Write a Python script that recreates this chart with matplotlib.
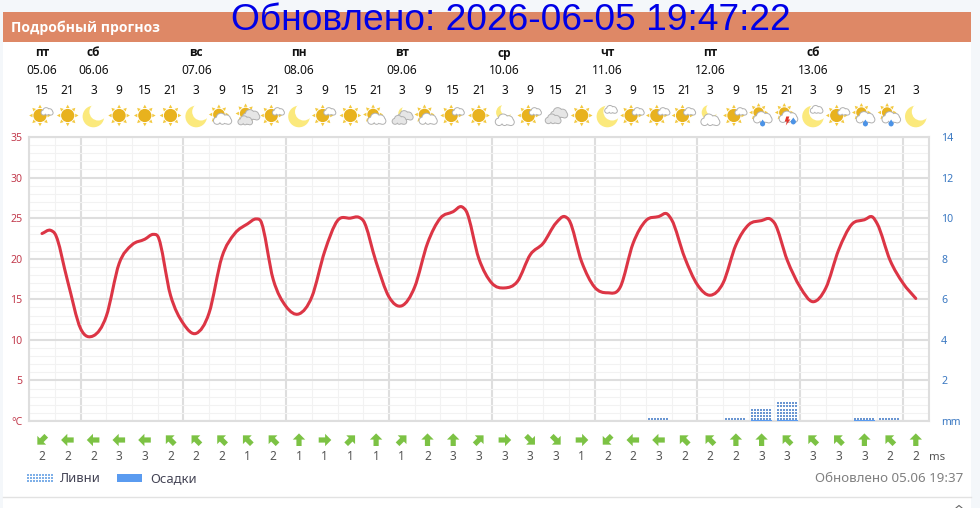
import numpy as np
import matplotlib
matplotlib.use("Agg")
import matplotlib.pyplot as plt
from matplotlib.patches import Circle, PathPatch, Polygon, Rectangle
from matplotlib.path import Path

TITLE = "Обновлено: 2026-06-05 19:47:22"
HEADER = "Подробный прогноз"
UPDATED = "Обновлено 05.06 19:37"

# day captions and the forecast slot each one sits over
DAY_SLOTS = [0, 2, 6, 10, 14, 18, 22, 26, 30]
DAY_NAMES = ["пт", "сб", "вс", "пн", "вт", "ср", "чт", "пт", "сб"]
DAY_DATES = ["05.06", "06.06", "07.06", "08.06", "09.06", "10.06", "11.06", "12.06", "13.06"]

HOURS = [15, 21, 3, 9] * 8 + [15, 21, 3]

# s sun, m moon, sc/sb sun+cloud, so sun+two clouds, mo moon+two clouds,
# mb/mc moon+cloud, oo two clouds, sr rain, st thunderstorm
ICONS = ["sc", "s", "m", "s", "s", "s", "m", "sb", "so", "sc", "m", "sc",
         "s", "sb", "mo", "sb", "sc", "s", "mb", "sc", "oo", "s", "mc", "sc",
         "sc", "sc", "mb", "sc", "sr", "st", "mc", "sc", "sr", "sr", "m"]

WIND_DIRS = ["SW", "W", "W", "W", "W", "NW", "NW", "NW", "NW", "NW", "N", "E",
             "NE", "N", "NE", "N", "N", "NE", "E", "SE", "SE", "E", "SW", "W",
             "W", "NW", "NW", "N", "N", "NW", "NW", "NW", "N", "NW", "N"]
WIND_SPEEDS = [2, 2, 2, 3, 3, 2, 2, 2, 1, 2, 1, 1,
               1, 1, 1, 2, 3, 3, 3, 3, 3, 1, 2, 2,
               3, 2, 2, 2, 3, 3, 3, 3, 3, 2, 2]

# temperature, hours since the first slot
TEMP_HOURS = [0, 2, 3, 6, 9, 12, 15, 18, 21, 24, 26, 27, 30, 33, 36, 39, 42, 45,
              48, 50, 51, 54, 57, 60, 63, 66, 69, 72, 74, 75, 78, 81, 84, 87, 90,
              93, 96, 98, 99, 102, 105, 108, 111, 114, 117, 120, 122, 123, 126,
              129, 132, 135, 138, 141, 144, 146, 147, 150, 153, 156, 159, 162,
              165, 168, 170, 171, 174, 177, 180, 183, 186, 189, 192, 194, 195,
              198, 201, 204]
TEMPS = [23.1, 23.5, 23.1, 17.2, 11.4, 10.5, 12.9, 19.4, 21.7, 22.4, 23.0, 22.8,
         15.5, 12.0, 10.8, 13.3, 20.2, 23.1, 24.3, 24.9, 24.7, 17.4, 14.1, 13.2,
         15.3, 20.9, 24.7, 25.0, 25.1, 24.7, 19.6, 15.3, 14.2, 16.5, 21.9, 25.0,
         25.8, 26.4, 25.9, 20.0, 17.0, 16.4, 17.2, 20.5, 21.9, 24.4, 25.2, 24.8,
         19.6, 16.5, 15.8, 16.5, 21.9, 24.7, 25.2, 25.5, 24.8, 20.2, 16.8, 15.5,
         17.0, 21.7, 24.2, 24.7, 24.9, 24.4, 19.8, 16.5, 14.7, 16.4, 21.1, 24.2,
         24.8, 25.1, 24.3, 19.8, 17.0, 15.1]

# precipitation in mm
SHOWER_SLOTS = [24, 27, 28, 29, 32, 33]
SHOWERS = [0.08, 0.08, 0.7, 0.98, 0.2, 0.2]
RAIN_SLOTS = [24, 27, 28, 29, 32, 33]
RAIN = [0.01, 0.01, 0.07, 0.07, 0.07, 0.01]

TEMP_TICKS = [0, 5, 10, 15, 20, 25, 30, 35]
MM_TICKS = [0, 2, 4, 6, 8, 10, 12, 14]

SUN_CORE = "#e8b21e"
SUN_RAY = "#f3c93f"
MOON = "#fbe97c"
CLOUD_EDGE = "#b2b2b2"
DROP = "#4c93e6"
WIND_GREEN = "#7cc244"
RED_LABEL = "#c23a4c"
BLUE_LABEL = "#3a78c2"
FONT = "Noto Sans"
BOLD_FONT = "Open Sans"

plt.rcParams["font.family"] = FONT

fig = plt.figure(figsize=(9.8, 5.08), dpi=100, facecolor="#f4f7fa")

# pixel-addressed layer for the page furniture and weather icons
ov = fig.add_axes([0, 0, 1, 1], zorder=0)
ov.set_xlim(0, 980)
ov.set_ylim(508, 0)
ov.axis("off")

PLOT_L, PLOT_R, PLOT_T, PLOT_B = 29.15, 928.65, 137, 421
SLOT_W = (PLOT_R - PLOT_L) / 35


def slot_x(i):
    return PLOT_L + (i + 0.5) * SLOT_W


ov.add_patch(Rectangle((3, 12), 968, 496, fc="white", ec="none"))
ov.add_patch(Rectangle((3, 12), 968, 30, fc="#de8866", ec="none"))
ov.plot([3, 971], [496.5, 496.5], color="#e2e2e2", lw=1)
ov.plot([956, 959, 962], [508, 505.5, 508], color="#666666", lw=0.8)

ov.text(511, 20.5, TITLE, family="Liberation Sans", fontsize=26.75, color="#0000e6",
        ha="center", va="center", zorder=5)
ov.text(11, 28, HEADER, family=BOLD_FONT, color="white", fontsize=10.1, fontweight="bold", va="center")

for slot, name, date in zip(DAY_SLOTS, DAY_NAMES, DAY_DATES):
    ov.text(slot_x(slot), 53, name, family=BOLD_FONT, fontsize=8.6, fontweight="bold", color="#111111",
            ha="center", va="center")
    ov.text(slot_x(slot), 71, date, fontsize=8.6, color="#111111", ha="center", va="center")

for i, h in enumerate(HOURS):
    ov.text(slot_x(i), 91, str(h), fontsize=8.6, color="#111111", ha="center", va="center")


def sun(cx, cy, r=6.6):
    for a in np.arange(0, 360, 45):
        t = np.radians(a)
        d = np.array([np.cos(t), np.sin(t)])
        n = np.array([-d[1], d[0]])
        c = np.array([cx, cy])
        ov.add_patch(Polygon([c + d * (r + 4.2), c + d * (r + 0.9) + n * 1.8, c + d * (r + 0.9) - n * 1.8],
                             fc=SUN_RAY, ec="none"))
    ov.add_patch(Circle((cx, cy), r, fc=SUN_CORE, ec="none"))


def moon(cx, cy, r=10.8, cut=8.8, off=4.8):
    ov.add_patch(Circle((cx, cy), r, fc=MOON, ec="none"))
    ov.add_patch(Circle((cx + off, cy - off), cut, fc="white", ec="none"))


def cloud(cx, cy, s=1.0, face="white"):
    # outline is a slightly larger copy of the lobes underneath the fill
    lobes = [(-6.2, 2.0, 3.6), (-1.6, -1.2, 4.9), (4.4, 0.4, 4.6), (7.0, 2.4, 3.2), (0, 3.0, 2.6)]
    for dx, dy, r in lobes:
        ov.add_patch(Circle((cx + dx * s, cy + dy * s), r * s + 1.0, fc=CLOUD_EDGE, ec="none"))
    for dx, dy, r in lobes:
        ov.add_patch(Circle((cx + dx * s, cy + dy * s), r * s, fc=face, ec="none"))


def drop(cx, cy):
    ov.add_patch(Polygon([(cx, cy - 4), (cx + 2.6, cy), (cx, cy + 2.8), (cx - 2.6, cy)],
                         fc=DROP, ec="none"))
    ov.add_patch(Circle((cx, cy + 0.4), 2.5, fc=DROP, ec="none"))


def icon(kind, cx, cy=115.5):
    if kind == "s":
        sun(cx, cy)
    elif kind == "m":
        moon(cx, cy + 1)
    elif kind == "sc":
        sun(cx - 2, cy)
        cloud(cx + 5, cy - 4, 0.55)
    elif kind == "sb":
        sun(cx - 3, cy - 1, 5.8)
        cloud(cx + 0.5, cy + 3.5, 0.86)
    elif kind == "so":
        sun(cx - 2, cy - 2, 5.8)
        cloud(cx + 3.5, cy - 0.5, 0.8, "#e6e6e6")
        cloud(cx - 2.5, cy + 5, 0.68, "#e6e6e6")
    elif kind == "mo":
        moon(cx + 3, cy - 2, 6.5, 6, 3)
        cloud(cx + 3.5, cy, 0.72, "#e6e6e6")
        cloud(cx - 2.5, cy + 4.5, 0.68, "#e6e6e6")
    elif kind == "oo":
        cloud(cx + 3, cy - 2.5, 0.8, "#e6e6e6")
        cloud(cx - 3, cy + 3.5, 0.74, "#e6e6e6")
    elif kind == "mb":
        moon(cx - 1, cy - 3, 7.5, 6.4, 3.4)
        cloud(cx, cy + 4.5, 0.9)
    elif kind == "mc":
        moon(cx, cy + 1)
        cloud(cx + 3.5, cy - 6, 0.58)
    elif kind == "sr":
        sun(cx - 3, cy - 3, 5.2)
        cloud(cx + 1, cy + 2, 0.88)
        drop(cx + 1, cy + 8)
    elif kind == "st":
        sun(cx - 3, cy - 3, 5.2)
        cloud(cx + 1, cy + 1.5, 0.88)
        ov.add_patch(Polygon([(cx - 1, cy + 1), (cx + 2, cy + 1), (cx + 1, cy + 4), (cx + 3, cy + 4),
                              (cx - 1.5, cy + 10), (cx - 0.5, cy + 6), (cx - 2.5, cy + 6)],
                             fc="#e2352b", ec="none", zorder=3))
        drop(cx + 6, cy + 6)


for i, kind in enumerate(ICONS):
    icon(kind, slot_x(i))

ARROW = np.array([(0, 6.6), (6.2, 0.4), (2.6, 0.4), (2.6, -6), (-2.6, -6), (-2.6, 0.4), (-6.2, 0.4)])
BEARING = {"N": 0, "NE": 45, "E": 90, "SE": 135, "S": 180, "SW": 225, "W": 270, "NW": 315}

for i, (d, v) in enumerate(zip(WIND_DIRS, WIND_SPEEDS)):
    t = np.radians(BEARING[d])
    x = slot_x(i) + ARROW[:, 0] * np.cos(t) + ARROW[:, 1] * np.sin(t)
    y = 440 - (-ARROW[:, 0] * np.sin(t) + ARROW[:, 1] * np.cos(t))
    ov.add_patch(Polygon(np.column_stack([x, y]), fc=WIND_GREEN, ec="none"))
    ov.text(slot_x(i), 457, str(v), fontsize=8.6, color="#555555", ha="center", va="center")
ov.text(937, 457, "ms", fontsize=8.2, color="#555555", ha="center", va="center")

# legend row
lx, ly = np.meshgrid(np.arange(27.5, 53, 3.0), np.arange(475, 482, 3.0))
ov.scatter(lx.ravel(), ly.ravel(), s=0.75, marker="s", color="#7fb0e8", linewidths=0)
ov.text(60, 478.5, "Ливни", fontsize=9.4, color="#444455", va="center")
ov.add_patch(Rectangle((117, 474), 25, 8, fc="#5a9bf0", ec="none"))
ov.text(150, 478.5, "Осадки", fontsize=9.4, color="#444455", va="center")
ov.text(963, 478.5, UPDATED, fontsize=9.6, color="#808080", ha="right", va="center")

# main chart
ax = fig.add_axes([PLOT_L / 980, 1 - PLOT_B / 508, (PLOT_R - PLOT_L) / 980, (PLOT_B - PLOT_T) / 508],
                  zorder=1)
ax.patch.set_alpha(0)
ax.set_xlim(-0.5, 34.5)
ax.set_ylim(0, 35)

ax.set_xticks(np.arange(-0.5, 35, 1), minor=True)
ax.set_xticks(np.arange(1.5, 35, 4))
ax.set_yticks(np.arange(0, 36, 1), minor=True)
ax.set_yticks(TEMP_TICKS)
ax.set_yticklabels(["°C"] + [str(t) for t in TEMP_TICKS[1:]])
ax.set_xticklabels([])
ax.tick_params(axis="both", which="both", length=0)
ax.tick_params(axis="y", labelsize=7.6, labelcolor=RED_LABEL, pad=5)
ax.grid(True, which="minor", color="#f2f2f2", lw=0.8)
ax.grid(True, which="major", color="#dedede", lw=1.5)
ax.set_axisbelow(True)
for side in ax.spines.values():
    side.set_color("#dedede")
    side.set_linewidth(1.5)

ax2 = ax.twinx()
ax2.set_ylim(0, 14)
ax2.set_yticks(MM_TICKS)
ax2.set_yticklabels(["mm"] + [str(t) for t in MM_TICKS[1:]])
ax2.tick_params(axis="y", length=0, labelsize=7.6, labelcolor=BLUE_LABEL, pad=9)
for side in ax2.spines.values():
    side.set_visible(False)

# showers as a square grid of dots, rain as solid bars under them
BAR_W = 0.82
ax2.bar(SHOWER_SLOTS, SHOWERS, width=BAR_W, color="none", linewidth=0)
for slot, mm in zip(SHOWER_SLOTS, SHOWERS):
    dot_x = np.arange(slot - BAR_W / 2 + 0.03, slot + BAR_W / 2, 0.117)
    dot_y = np.arange(0.075, mm + 0.02, 0.163)
    gx, gy = np.meshgrid(dot_x, dot_y)
    ax2.scatter(gx.ravel(), gy.ravel(), s=0.55, marker="s", color="#6a96d2", linewidths=0)
ax2.bar(RAIN_SLOTS, RAIN, width=BAR_W, color="#5a9bf0", linewidth=0)

# temperature line: cubic segments through the readings
tx = np.array(TEMP_HOURS) / 6
ty = np.array(TEMPS)
slopes = np.gradient(ty, tx)
verts = [(tx[0], ty[0])]
codes = [Path.MOVETO]
for k in range(len(tx) - 1):
    h = (tx[k + 1] - tx[k]) / 3
    verts += [(tx[k] + h, ty[k] + slopes[k] * h),
              (tx[k + 1] - h, ty[k + 1] - slopes[k + 1] * h),
              (tx[k + 1], ty[k + 1])]
    codes += [Path.CURVE4] * 3
ax.add_patch(PathPatch(Path(verts, codes), fc="none", ec="#dc3545", lw=2.2, capstyle="round",
                       joinstyle="round", zorder=4))

fig.savefig("out.png", dpi=100, facecolor=fig.get_facecolor())
